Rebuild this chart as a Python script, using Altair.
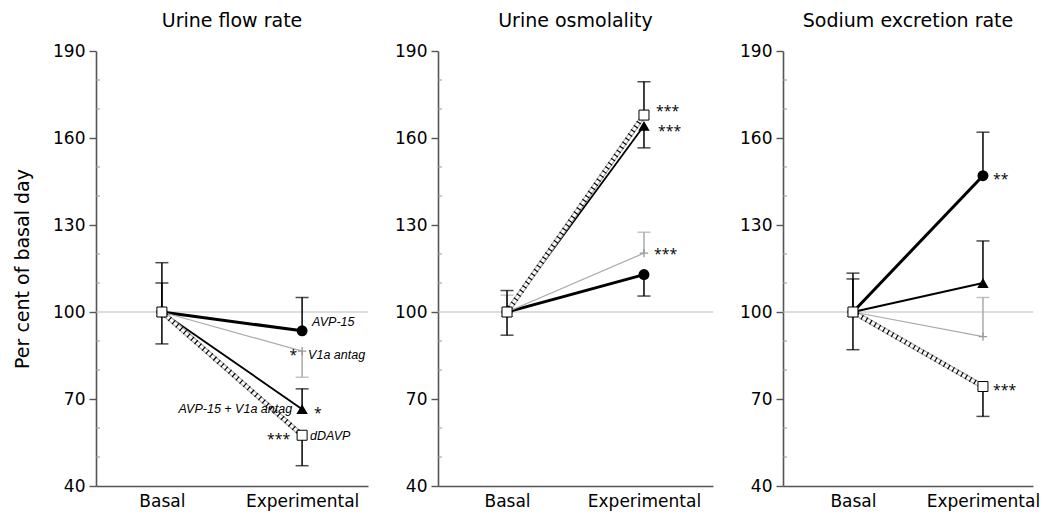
import altair as alt
import pandas as pd

panels = ["Urine flow rate", "Urine osmolality", "Sodium excretion rate"]
phases = ["Basal", "Experimental"]
series = ["AVP-15", "V1a antag", "AVP-15 + V1a antag", "dDAVP"]

basal_values = [100.0, 100.0, 100.0, 100.0]
flow_exp = [93.5, 86.5, 66.5, 57.5]
osm_exp = [112.9, 120.3, 164.2, 167.9]
sod_exp = [147.0, 91.5, 110.0, 74.3]

# error-bar end values (None = no bar)
flow_basal_err = [117.0, None, 110.0, 89.0]
flow_exp_err = [105.0, 77.5, 73.5, 47.0]
osm_basal_err = [92.0, 105.8, None, 107.4]
osm_exp_err = [105.5, 127.5, 156.6, 179.4]
sod_basal_err = [113.4, None, 111.4, 87.0]
sod_exp_err = [162.0, 105.0, 124.5, 64.0]

y_ticks = [40, 70, 100, 130, 160, 190]
y_minor = [50, 60, 80, 90, 110, 120, 140, 150, 170, 180]
ref_value = [100]

ann_panel = [0, 0, 0, 0, 0, 0, 0, 1, 1, 1, 2, 2]
ann_series = ["AVP-15", "V1a antag", "V1a antag", "AVP-15 + V1a antag",
              "AVP-15 + V1a antag", "dDAVP", "dDAVP", "dDAVP",
              "AVP-15 + V1a antag", "V1a antag", "AVP-15", "dDAVP"]
ann_text = ["AVP-15", "*", "V1a antag", "AVP-15 + V1a antag", "*", "***",
            "dDAVP", "***", "***", "***", "**", "***"]

# label styling (dx, dy, align, italic) per annotation
ann_style = [(10, -9, "left", True), (-5, 5, "right", False), (6, 4, "left", True),
             (-10, 0, "right", True), (12, 5, "left", False), (-12, 5, "right", False),
             (8, 1, "left", True), (12, -3, "left", False), (14, 6, "left", False),
             (10, 2, "left", False), (10, 4, "left", False), (10, 4, "left", False)]

exp_sets = [flow_exp, osm_exp, sod_exp]
basal_err_sets = [flow_basal_err, osm_basal_err, sod_basal_err]
exp_err_sets = [flow_exp_err, osm_exp_err, sod_exp_err]

rows, err_rows = [], []
for p, name in enumerate(panels):
    for i, s in enumerate(series):
        rows.append({"panel": name, "series": s, "phase": "Basal", "value": basal_values[i]})
        rows.append({"panel": name, "series": s, "phase": "Experimental", "value": exp_sets[p][i]})
        if basal_err_sets[p][i] is not None:
            err_rows.append({"panel": name, "series": s, "phase": "Basal",
                             "value": basal_values[i], "end": basal_err_sets[p][i]})
        if exp_err_sets[p][i] is not None:
            err_rows.append({"panel": name, "series": s, "phase": "Experimental",
                             "value": exp_sets[p][i], "end": exp_err_sets[p][i]})
df = pd.DataFrame(rows)
err = pd.DataFrame(err_rows)

FONT = "DejaVu Sans"
STAR = "Open Sans"
ITAL = "Liberation Sans Narrow, Liberation Sans, sans-serif"

panel_geom = [(272, 0.47, 0.5), (275, 0.504, 0.5), (250, 0.4615, 0.583)]

line_styles = {
    "AVP-15": [dict(color="black", strokeWidth=3)],
    "V1a antag": [dict(color="#aaaaaa", strokeWidth=1.2)],
    "AVP-15 + V1a antag": [dict(color="black", strokeWidth=1.8)],
    "dDAVP": [dict(color="#b0b0b0", strokeWidth=5), dict(color="white", strokeWidth=2.6),
              dict(color="black", strokeWidth=5, strokeDash=[1.2, 3.8])],
}
point_styles = {
    "AVP-15": dict(shape="circle", filled=True, color="black", size=120, opacity=1),
    "V1a antag": dict(shape="M-1,0H1M0,-1V1", filled=False, color="#999999", size=70,
                      strokeWidth=1.3, opacity=1),
    "AVP-15 + V1a antag": dict(shape="triangle-up", filled=True, color="black", size=130, opacity=1),
    "dDAVP": dict(shape="square", filled=True, fill="white", stroke="black", size=100,
                  strokeWidth=1, opacity=1),
}


def make_panel(p):
    name = panels[p]
    w, pad, align = panel_geom[p]
    d = df[df.panel == name]
    e = err[err.panel == name]
    xenc = alt.X("phase:N", sort=phases,
                 scale=alt.Scale(type="point", padding=pad, align=align),
                 axis=alt.Axis(title=None, ticks=False, labelAngle=0, labelFontSize=17,
                               labelFont=FONT, labelColor="black", labelPadding=7,
                               domainColor="#555555", domainWidth=1.6))
    ytitle = "Per cent of basal day" if p == 0 else None
    yaxis = alt.Axis(values=y_ticks, tickSize=7, labelFontSize=17, labelFont=FONT,
                     labelColor="black", grid=False, domainColor="#555555",
                     domainWidth=1.6, tickColor="#555555", tickWidth=1.4,
                     labelPadding=4, title=ytitle, titleFontSize=19, titleFont=FONT,
                     titleFontWeight="normal", titleColor="black", titlePadding=20)
    yscale = alt.Scale(domain=[40, 190], nice=False, zero=False)

    def Y(field):
        return alt.Y(field, type="quantitative", scale=yscale, axis=yaxis)

    layers = []
    layers.append(alt.Chart(pd.DataFrame({"v": ref_value})).mark_rule(
        color="#bbbbbb", strokeWidth=1).encode(y=Y("v")))
    layers.append(alt.Chart(pd.DataFrame({"v": y_minor})).mark_rule(
        color="#999999", strokeWidth=1).encode(y=Y("v"), x=alt.value(0), x2=alt.value(4)))
    for s in series:
        sd = d[d.series == s]
        for st in line_styles[s]:
            layers.append(alt.Chart(sd).mark_line(**st).encode(x=xenc, y=Y("value")))
    for s in series:
        se = e[e.series == s]
        if len(se) == 0:
            continue
        col = "#aaaaaa" if s == "V1a antag" else "black"
        layers.append(alt.Chart(se).mark_rule(color=col, strokeWidth=1.5).encode(
            x=xenc, y=Y("value"), y2="end"))
        layers.append(alt.Chart(se).mark_tick(color=col, thickness=1.5, size=13).encode(
            x=xenc, y=Y("end")))
    for s in series:
        sd = d[d.series == s]
        layers.append(alt.Chart(sd).mark_point(**point_styles[s]).encode(x=xenc, y=Y("value")))
    for k in range(len(ann_text)):
        if ann_panel[k] != p:
            continue
        dx, dy, al, it = ann_style[k]
        row = d[(d.series == ann_series[k]) & (d.phase == "Experimental")].copy()
        row["label"] = ann_text[k]
        if it:
            mk = alt.Chart(row).mark_text(dx=dx, dy=dy, align=al, baseline="middle",
                                          font=ITAL, fontStyle="italic", fontSize=12.5,
                                          color="black")
        else:
            mk = alt.Chart(row).mark_text(dx=dx, dy=dy, align=al, baseline="middle",
                                          font=STAR, fontSize=14, color="black")
        layers.append(mk.encode(x=xenc, y=Y("value"), text="label:N"))
    return alt.layer(*layers).properties(
        width=w, height=435,
        title=alt.TitleParams(name, fontSize=19, font=FONT, fontWeight="normal",
                              color="black", offset=11, anchor="middle"))


chart = alt.hconcat(*[make_panel(p) for p in range(3)], spacing=25).properties(
    padding={"left": 5, "top": 4, "right": 0, "bottom": 6}
).configure_view(stroke=None)

chart.save("out.html", embed_options={"renderer": "svg", "actions": False})
